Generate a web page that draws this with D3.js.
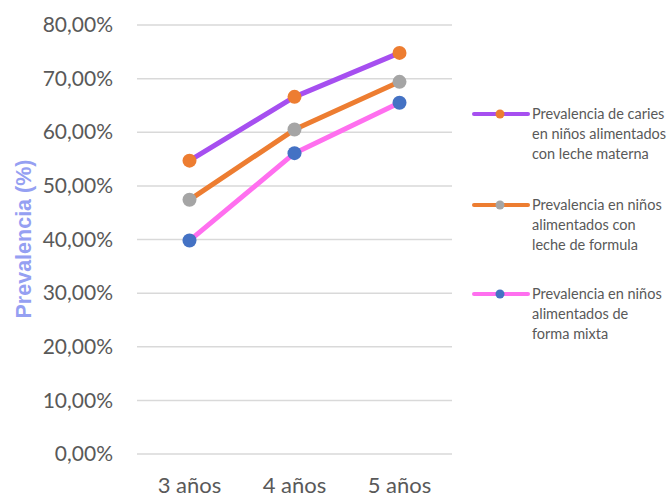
<!DOCTYPE html>
<html>
<head>
<meta charset="utf-8">
<script src="https://cdn.jsdelivr.net/npm/d3@7"></script>
<style>
  html, body { margin: 0; padding: 0; background: #fff; }
  svg { display: block; }
  text { font-family: Lato, "Open Sans", sans-serif; }
</style>
</head>
<body>
<svg id="chart" width="671" height="498"></svg>
<script>
// Age groups on the x axis
const categories = ["3 años", "4 años", "5 años"];

// Caries prevalence (%) by type of feeding
const maternaValues = [54.7, 66.6, 74.8];
const formulaValues = [47.4, 60.5, 69.4];
const mixtaValues   = [39.8, 56.1, 65.5];

const seriesNames = [
  ["Prevalencia de caries", "en niños alimentados", "con leche materna"],
  ["Prevalencia en niños", "alimentados con", "leche de formula"],
  ["Prevalencia en niños", "alimentados de", "forma mixta"]
];

const yTicks = [0, 10, 20, 30, 40, 50, 60, 70, 80];

const series = [
  { values: maternaValues, line: "#A64FF0", marker: "#ED7D31", name: seriesNames[0] },
  { values: formulaValues, line: "#ED7D31", marker: "#A5A5A5", name: seriesNames[1] },
  { values: mixtaValues,   line: "#FF6FEF", marker: "#4472C4", name: seriesNames[2] }
];

const svg = d3.select("#chart");
const plot = { left: 137, right: 452, top: 25, bottom: 454 };

const x = d3.scaleBand().domain(categories).range([plot.left, plot.right]);
const y = d3.scaleLinear().domain([0, 80]).range([plot.bottom, plot.top]);

// Horizontal gridlines
svg.append("g")
  .selectAll("line")
  .data(yTicks)
  .join("line")
  .attr("x1", plot.left).attr("x2", plot.right)
  .attr("y1", d => y(d)).attr("y2", d => y(d))
  .attr("stroke", "#D9D9D9").attr("stroke-width", 1.5);

// Y axis labels
const fmt = d => d.toFixed(2).replace(".", ",") + "%";
const yAxis = svg.append("g")
  .attr("transform", `translate(${plot.left - 24},0)`)
  .call(d3.axisLeft(y).tickValues(yTicks).tickFormat(fmt).tickSize(0).tickPadding(0));
yAxis.select(".domain").remove();
yAxis.selectAll("text")
  .attr("fill", "#595959")
  .style("font-family", "Lato, sans-serif")
  .style("font-size", "21px");

// X axis labels
const xAxis = svg.append("g")
  .attr("transform", `translate(0,${plot.bottom})`)
  .call(d3.axisBottom(x).tickSize(0).tickPadding(23));
xAxis.select(".domain").remove();
xAxis.selectAll("text")
  .attr("fill", "#595959")
  .style("font-family", "Lato, sans-serif")
  .style("font-size", "22px");

// Y axis title
svg.append("text")
  .attr("transform", `translate(31,239) rotate(-90)`)
  .attr("text-anchor", "middle")
  .attr("fill", "#95A0F2")
  .style("font-family", "'Liberation Sans', Arial, sans-serif")
  .style("font-size", "21.5px")
  .style("font-weight", "bold")
  .text("Prevalencia (%)");

// Lines and markers
const cx = c => x(c) + x.bandwidth() / 2;
const lineGen = d3.line().x((d, i) => cx(categories[i])).y(d => y(d));

series.forEach(s => {
  svg.append("path")
    .datum(s.values)
    .attr("d", lineGen)
    .attr("fill", "none")
    .attr("stroke", s.line)
    .attr("stroke-width", 5)
    .attr("stroke-linejoin", "round")
    .attr("stroke-linecap", "round");
});
series.forEach(s => {
  svg.append("g")
    .selectAll("circle")
    .data(s.values)
    .join("circle")
    .attr("cx", (d, i) => cx(categories[i]))
    .attr("cy", d => y(d))
    .attr("r", 7)
    .attr("fill", s.marker);
});

// Legend
const legendTop = [114, 205, 294];
series.forEach((s, k) => {
  const g = svg.append("g").attr("transform", `translate(0,${legendTop[k]})`);
  g.append("line")
    .attr("x1", 474).attr("x2", 528).attr("y1", 0).attr("y2", 0)
    .attr("stroke", s.line).attr("stroke-width", 4).attr("stroke-linecap", "round");
  g.append("circle").attr("cx", 500).attr("cy", 0).attr("r", 4.5).attr("fill", s.marker);
  g.append("text")
    .attr("x", 532).attr("y", 0)
    .attr("fill", "#595959")
    .style("font-size", "14.5px")
    .selectAll("tspan")
    .data(s.name)
    .join("tspan")
    .attr("x", 532)
    .attr("dy", (d, i) => i === 0 ? "0.35em" : "20px")
    .text(d => d);
});
</script>
</body>
</html>
